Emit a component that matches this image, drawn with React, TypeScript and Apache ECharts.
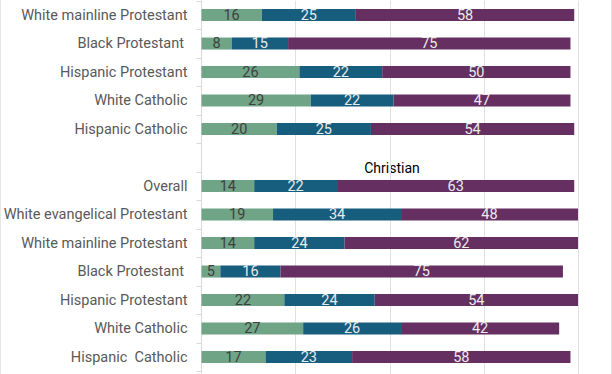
import React, { useEffect, useRef } from "react";
import * as echarts from "echarts";

const categories = [
  "White mainline Protestant",
  "Black Protestant ",
  "Hispanic Protestant",
  "White Catholic",
  "Hispanic Catholic",
  "",
  "Overall",
  "White evangelical Protestant",
  "White mainline Protestant",
  "Black Protestant ",
  "Hispanic Protestant",
  "White Catholic",
  "Hispanic  Catholic",
  "",
];

const lowValues = [16, 8, 26, 29, 20, null, 14, 19, 14, 5, 22, 27, 17, null];
const midValues = [25, 15, 22, 22, 25, null, 22, 34, 24, 16, 24, 26, 23, null];
const highValues = [58, 75, 50, 47, 54, null, 63, 48, 62, 75, 54, 42, 58, null];

const groupTitle = "Christian";

const COLORS = ["#6fa586", "#175e7e", "#652f61"];

export default function App() {
  const ref = useRef<HTMLDivElement>(null);
  useEffect(() => {
    if (!ref.current) return;
    const chart = echarts.init(ref.current, null, { renderer: "svg" });
    const mk = (name: string, data: (number | null)[], color: string, labelColor: string) => ({
      name,
      type: "bar",
      stack: "total",
      data,
      barWidth: 12,
      itemStyle: { color },
      label: {
        show: true,
        position: "inside",
        color: labelColor,
        fontFamily: "Roboto",
        fontSize: 14.5,
        formatter: (p: any) => (p.value == null ? "" : String(p.value)),
      },
    });
    chart.setOption({
      animation: false,
      grid: {
        left: 201.5,
        width: 376.5,
        top: 0.8,
        height: 399,
        containLabel: false,
        outerBoundsMode: "none",
      },
      xAxis: {
        type: "value",
        min: 0,
        max: 100,
        interval: 25,
        axisLabel: { show: false },
        axisLine: { show: false },
        axisTick: { show: false },
        splitLine: { show: true, lineStyle: { color: "#e0e0e0", width: 1 } },
      },
      yAxis: {
        type: "category",
        inverse: true,
        data: categories,
        axisLine: { show: true, lineStyle: { color: "#d9d9d9" } },
        axisTick: { show: true, length: 5, lineStyle: { color: "#d9d9d9" } },
        axisLabel: {
          color: "#595959",
          fontFamily: "Roboto",
          fontSize: 14.5,
          margin: 14,
        },
      },
      graphic: [
        {
          type: "text",
          x: 392,
          y: 168,
          style: {
            text: groupTitle,
            fill: "#000",
            fontFamily: "Roboto",
            fontSize: 14,
            textAlign: "center",
            textVerticalAlign: "middle",
          },
        },
        { type: "line", shape: { x1: 0.5, y1: 0, x2: 0.5, y2: 374 }, style: { stroke: "#e6e6e6", lineWidth: 1 } },
        { type: "line", shape: { x1: 611.5, y1: 0, x2: 611.5, y2: 374 }, style: { stroke: "#e6e6e6", lineWidth: 1 } },
      ],
      series: [
        mk("Low", lowValues, COLORS[0], "#404040"),
        mk("Middle", midValues, COLORS[1], "#ebebeb"),
        mk("High", highValues, COLORS[2], "#ebebeb"),
      ],
    });
    return () => chart.dispose();
  }, []);
  return (
    <div
      ref={ref}
      style={{ position: "fixed", left: 0, top: 0, width: 612, height: 374, background: "#fff" }}
    />
  );
}
